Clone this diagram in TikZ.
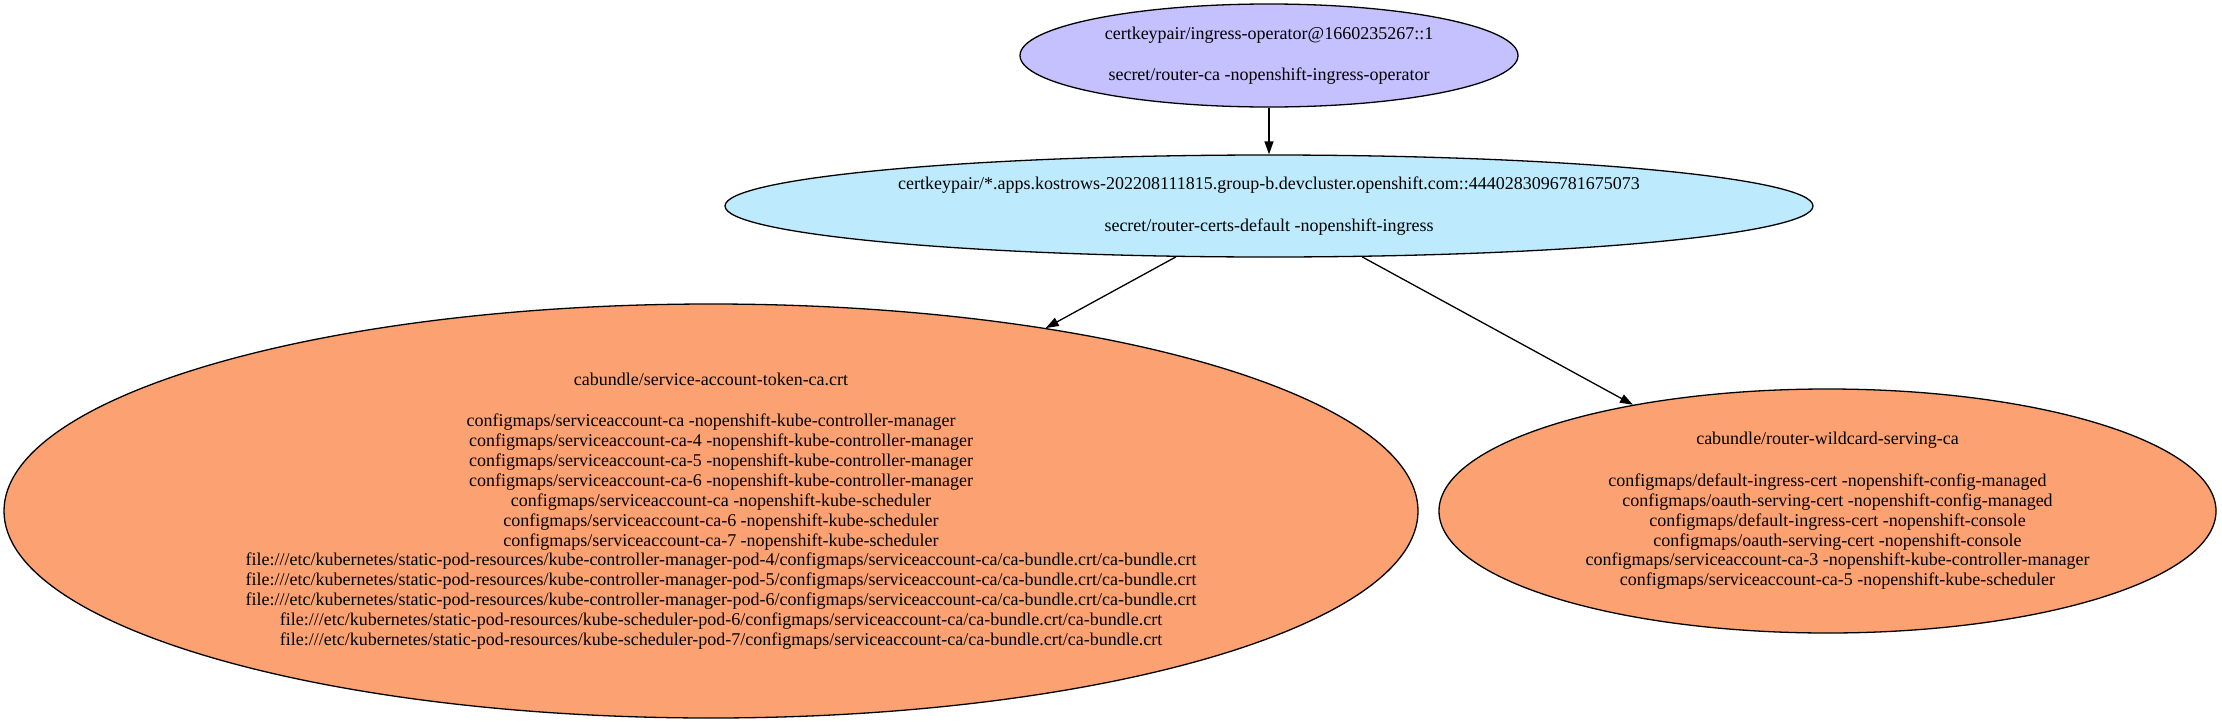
\documentclass[tikz,border=0pt]{standalone}
\usepackage{fontspec}
\setmainfont{Liberation Serif}
\usetikzlibrary{shapes.geometric,arrows.meta}
\definecolor{topfill}{RGB}{197,192,254}
\definecolor{midfill}{RGB}{189,234,252}
\definecolor{leaffill}{RGB}{252,161,113}
\newcommand{\lgapx}{\\[21.6pt]}
\newcommand{\lshx}{\hspace*{20pt}}
\begin{document}
\begin{tikzpicture}[x=1pt,y=-1pt,
  gnode/.style={ellipse,draw=black,line width=1.3pt,inner sep=0pt,align=center,
    font=\fontsize{18}{19.9}\selectfont},
  edge/.style={draw=black,line width=1.3pt,-{Triangle[length=13pt,width=9pt]}}]
\useasboundingbox (0,0) rectangle (2222,723);

\node[gnode,fill=topfill,minimum width=498pt,minimum height=103pt] (top) at (1269,55.5)
  {certkeypair/ingress-operator@1660235267::1\lgapx secret/router-ca -nopenshift-ingress-operator};

\node[gnode,fill=midfill,minimum width=1088pt,minimum height=102pt] (mid) at (1269,206)
  {certkeypair/*.apps.kostrows-202208111815.group-b.devcluster.openshift.com::4440283096781675073\lgapx secret/router-certs-default -nopenshift-ingress};

\node[gnode,fill=leaffill,minimum width=1414pt,minimum height=414pt] (left) at (711,511)
  {cabundle/service-account-token-ca.crt\lgapx
   configmaps/serviceaccount-ca -nopenshift-kube-controller-manager\\
   \lshx configmaps/serviceaccount-ca-4 -nopenshift-kube-controller-manager\\
   \lshx configmaps/serviceaccount-ca-5 -nopenshift-kube-controller-manager\\
   \lshx configmaps/serviceaccount-ca-6 -nopenshift-kube-controller-manager\\
   \lshx configmaps/serviceaccount-ca -nopenshift-kube-scheduler\\
   \lshx configmaps/serviceaccount-ca-6 -nopenshift-kube-scheduler\\
   \lshx configmaps/serviceaccount-ca-7 -nopenshift-kube-scheduler\\
   \lshx file:///etc/kubernetes/static-pod-resources/kube-controller-manager-pod-4/configmaps/serviceaccount-ca/ca-bundle.crt/ca-bundle.crt\\
   \lshx file:///etc/kubernetes/static-pod-resources/kube-controller-manager-pod-5/configmaps/serviceaccount-ca/ca-bundle.crt/ca-bundle.crt\\
   \lshx file:///etc/kubernetes/static-pod-resources/kube-controller-manager-pod-6/configmaps/serviceaccount-ca/ca-bundle.crt/ca-bundle.crt\\
   \lshx file:///etc/kubernetes/static-pod-resources/kube-scheduler-pod-6/configmaps/serviceaccount-ca/ca-bundle.crt/ca-bundle.crt\\
   \lshx file:///etc/kubernetes/static-pod-resources/kube-scheduler-pod-7/configmaps/serviceaccount-ca/ca-bundle.crt/ca-bundle.crt};

\node[gnode,fill=leaffill,minimum width=777pt,minimum height=244pt] (right) at (1827.5,511)
  {cabundle/router-wildcard-serving-ca\lgapx
   configmaps/default-ingress-cert -nopenshift-config-managed\\
   \lshx configmaps/oauth-serving-cert -nopenshift-config-managed\\
   \lshx configmaps/default-ingress-cert -nopenshift-console\\
   \lshx configmaps/oauth-serving-cert -nopenshift-console\\
   \lshx configmaps/serviceaccount-ca-3 -nopenshift-kube-controller-manager\\
   \lshx configmaps/serviceaccount-ca-5 -nopenshift-kube-scheduler};

\draw[edge] (top) -- (mid);
\draw[edge] (mid) -- (left);
\draw[edge] (mid) -- (right);
\end{tikzpicture}
\end{document}
